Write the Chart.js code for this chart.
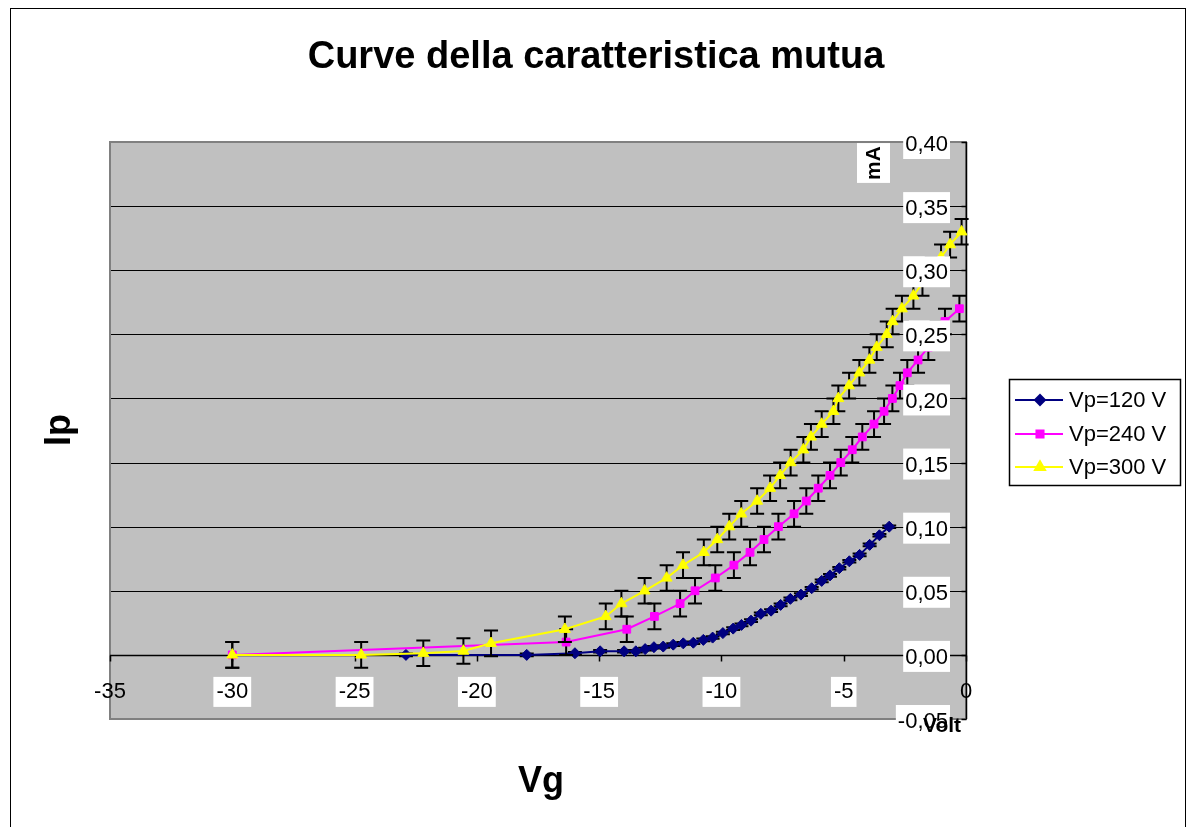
<!DOCTYPE html>
<html><head><meta charset="utf-8">
<script src="https://cdn.jsdelivr.net/npm/chart.js@4/dist/chart.umd.min.js"></script>
<style>html,body{margin:0;padding:0;background:#fff;}canvas{display:block;}</style>
</head><body>
<canvas id="c" width="1189" height="827"></canvas>
<script>
// ---- texts ----
const titleText = 'Curve della caratteristica mutua';
const xAxisTitle = 'Vg';
const yAxisTitle = 'Ip';
const xUnitLabel = 'Volt';
const yUnitLabel = 'mA';
const seriesNames = ['Vp=120 V', 'Vp=240 V', 'Vp=300 V'];

// ---- data (Vg in volt, Ip in mA) ----
const vg120 = [-22.9, -17.96, -15.99, -14.96, -13.98, -13.5, -13.12, -12.76, -12.38, -11.97, -11.56, -11.15, -10.74, -10.36, -9.94, -9.52, -9.18, -8.79, -8.39, -7.97, -7.58, -7.18, -6.75, -6.31, -5.9, -5.56, -5.18, -4.77, -4.35, -3.94, -3.54, -3.14];
const ip120 = [0, 0, 0.0013, 0.0028, 0.0028, 0.0028, 0.0045, 0.006, 0.0065, 0.008, 0.009, 0.0095, 0.0117, 0.0135, 0.017, 0.0205, 0.0234, 0.0267, 0.032, 0.0345, 0.039, 0.0437, 0.047, 0.052, 0.0577, 0.062, 0.0676, 0.073, 0.078, 0.0858, 0.0933, 0.100];

const vg240 = [-30, -16.35, -13.87, -12.74, -11.69, -11.08, -10.25, -9.49, -8.83, -8.26, -7.67, -7.03, -6.53, -6.04, -5.56, -5.12, -4.65, -4.24, -3.76, -3.35, -3.01, -2.70, -2.40, -1.96, -1.54, -1.2, -0.86, -0.27];
const ip240 = [0, 0.01, 0.02, 0.03, 0.04, 0.05, 0.06, 0.07, 0.08, 0.09, 0.10, 0.11, 0.12, 0.13, 0.14, 0.15, 0.16, 0.17, 0.18, 0.19, 0.20, 0.21, 0.22, 0.23, 0.24, 0.25, 0.26, 0.27];

const vg300 = [-30, -24.73, -22.19, -20.55, -19.42, -16.4, -14.73, -14.09, -13.14, -12.24, -11.57, -10.72, -10.17, -9.68, -9.19, -8.54, -8.01, -7.60, -7.17, -6.65, -6.34, -5.90, -5.42, -5.22, -4.78, -4.36, -3.95, -3.65, -3.24, -3.0, -2.62, -2.15, -1.78, -1.4, -1.02, -0.65, -0.18];
const ip300 = [0, 0, 0.0013, 0.003, 0.009, 0.02, 0.03, 0.04, 0.05, 0.06, 0.07, 0.08, 0.09, 0.10, 0.11, 0.12, 0.13, 0.14, 0.15, 0.16, 0.17, 0.18, 0.19, 0.20, 0.21, 0.22, 0.23, 0.24, 0.25, 0.26, 0.27, 0.28, 0.29, 0.30, 0.31, 0.32, 0.33];

// error bar half-widths (mA) per series
const seriesErrors = [0.001, 0.01, 0.01];

// ---- ticks ----
const xTickValues = [-35, -30, -25, -20, -15, -10, -5, 0];
const xTickLabels = ['-35', '-30', '-25', '-20', '-15', '-10', '-5', '0'];
const yTickValues = [-0.05, 0, 0.05, 0.10, 0.15, 0.20, 0.25, 0.30, 0.35, 0.40];
const yTickLabels = ['-0,05', '0,00', '0,05', '0,10', '0,15', '0,20', '0,25', '0,30', '0,35', '0,40'];
const yGridValues = [0, 0.05, 0.10, 0.15, 0.20, 0.25, 0.30, 0.35];

// ---- style ----
const FONT = '"Liberation Sans", Arial, Helvetica, sans-serif';
const seriesColors = ['#000080', '#FF00FF', '#FFFF00'];
const seriesMarkers = ['rectRot', 'rect', 'triangle'];
const markerRadius = [5.5, 5.5, 6.3];

function pts(xs, ys) { return xs.map((x, i) => ({ x: x, y: ys[i] })); }

function boxText(ctx, text, x, y, align, font, pad, box) {
  ctx.font = font;
  ctx.textAlign = align;
  ctx.textBaseline = 'middle';
  const w = ctx.measureText(text).width;
  let left = align === 'right' ? x - w : (align === 'center' ? x - w / 2 : x);
  if (box) {
    ctx.fillStyle = '#fff';
    ctx.fillRect(left - pad, box[0], w + 2 * pad, box[1] - box[0]);
  }
  ctx.fillStyle = '#000';
  ctx.fillText(text, x, y);
}

const excelPlugin = {
  id: 'excelLook',
  beforeDatasetsDraw(chart) {
    const ctx = chart.ctx, a = chart.chartArea;
    const xs = chart.scales.x, ys = chart.scales.y;
    ctx.save();
    // outer frame
    ctx.strokeStyle = '#000'; ctx.lineWidth = 1;
    ctx.strokeRect(10.5, 8.5, 1175, 860);
    // plot area
    ctx.fillStyle = '#C0C0C0';
    ctx.fillRect(a.left, a.top, a.right - a.left, a.bottom - a.top);
    // gridlines
    ctx.strokeStyle = '#000'; ctx.lineWidth = 1;
    yGridValues.forEach(v => {
      const py = Math.round(ys.getPixelForValue(v)) + 0.5;
      ctx.beginPath(); ctx.moveTo(a.left, py); ctx.lineTo(a.right, py); ctx.stroke();
    });
    // plot border
    ctx.strokeStyle = '#808080'; ctx.lineWidth = 2;
    ctx.strokeRect(a.left, a.top, a.right - a.left, a.bottom - a.top);
    // x axis at y=0
    const y0 = Math.round(ys.getPixelForValue(0)) + 0.5;
    ctx.strokeStyle = '#000'; ctx.lineWidth = 1.5;
    ctx.beginPath(); ctx.moveTo(a.left, y0); ctx.lineTo(a.right, y0); ctx.stroke();
    xTickValues.forEach(v => {
      const px = Math.round(xs.getPixelForValue(v)) + 0.5;
      ctx.beginPath(); ctx.moveTo(px, y0); ctx.lineTo(px, y0 + 6); ctx.stroke();
    });
    // y axis at x=0
    const x0 = Math.round(xs.getPixelForValue(0)) + 0.5;
    ctx.beginPath(); ctx.moveTo(x0, a.top); ctx.lineTo(x0, a.bottom); ctx.stroke();
    yTickValues.forEach(v => {
      const py = Math.round(ys.getPixelForValue(v)) + 0.5;
      ctx.beginPath(); ctx.moveTo(x0 - 5, py); ctx.lineTo(x0, py); ctx.stroke();
    });
    ctx.restore();
  },
  beforeDatasetDraw(chart, args) {
    const i = args.index;
    const err = seriesErrors[i];
    const ctx = chart.ctx, xs = chart.scales.x, ys = chart.scales.y;
    ctx.save();
    ctx.strokeStyle = '#000'; ctx.lineWidth = 2;
    chart.data.datasets[i].data.forEach(p => {
      const px = xs.getPixelForValue(p.x);
      const yt = ys.getPixelForValue(p.y + err);
      const yb = ys.getPixelForValue(p.y - err);
      ctx.beginPath();
      ctx.moveTo(px, yt); ctx.lineTo(px, yb);
      ctx.moveTo(px - 7, yt); ctx.lineTo(px + 7, yt);
      ctx.moveTo(px - 7, yb); ctx.lineTo(px + 7, yb);
      ctx.stroke();
    });
    ctx.restore();
  },
  afterDatasetsDraw(chart) {
    const ctx = chart.ctx, a = chart.chartArea;
    const xs = chart.scales.x, ys = chart.scales.y;
    const x0 = xs.getPixelForValue(0);
    const y0 = ys.getPixelForValue(0);
    const tickFont = '22px ' + FONT;
    ctx.save();
    // y tick labels
    yTickValues.forEach((v, k) => {
      const py = ys.getPixelForValue(v);
      boxText(ctx, yTickLabels[k], x0 - 18, py + 3, 'right', tickFont, 2, [py - 14, py + 17]);
    });
    // x tick labels
    xTickValues.forEach((v, k) => {
      const px = xs.getPixelForValue(v);
      const edge = (k === 0 || k === xTickValues.length - 1);
      boxText(ctx, xTickLabels[k], px, y0 + 37, 'center', tickFont, 3, edge ? null : [y0 + 22, y0 + 52]);
    });
    // unit labels
    ctx.font = 'bold 21px ' + FONT;
    ctx.textAlign = 'center'; ctx.textBaseline = 'middle';
    ctx.fillStyle = '#000';
    ctx.fillText(xUnitLabel, x0 - 24, a.bottom + 7);
    ctx.save();
    ctx.translate(x0 - 93, a.top + 21);
    ctx.rotate(-Math.PI / 2);
    const mw = ctx.measureText(yUnitLabel).width;
    ctx.fillStyle = '#fff';
    ctx.fillRect(-mw / 2 - 3, -16, mw + 6, 33);
    ctx.fillStyle = '#000';
    ctx.fillText(yUnitLabel, 0, 1);
    ctx.restore();
    // title
    ctx.font = 'bold 38px ' + FONT;
    ctx.textAlign = 'center'; ctx.textBaseline = 'alphabetic';
    ctx.fillText(titleText, 596, 68);
    // axis titles
    ctx.font = 'bold 36px ' + FONT;
    ctx.fillText(xAxisTitle, 541, 792);
    ctx.save();
    ctx.translate(70, 430);
    ctx.rotate(-Math.PI / 2);
    ctx.fillText(yAxisTitle, 0, 0);
    ctx.restore();
    // legend
    const L = { x: 1009, y: 379, w: 171, h: 106 };
    ctx.fillStyle = '#fff';
    ctx.fillRect(L.x, L.y, L.w, L.h);
    ctx.strokeStyle = '#000'; ctx.lineWidth = 1.5;
    ctx.strokeRect(L.x + 0.5, L.y + 0.5, L.w, L.h);
    const rowY = [400, 434, 467];
    chart.data.datasets.forEach((ds, k) => {
      const ry = rowY[k];
      ctx.strokeStyle = seriesColors[k]; ctx.lineWidth = 2;
      ctx.beginPath(); ctx.moveTo(1015, ry); ctx.lineTo(1063, ry); ctx.stroke();
      Chart.helpers.drawPoint(ctx, {
        pointStyle: seriesMarkers[k], radius: markerRadius[k] - 0.5, rotation: 0, borderWidth: 1
      }, 1040, ry);
      ctx.fillStyle = seriesColors[k];
      ctx.fill();
      ctx.fillStyle = '#000';
      ctx.font = '22px ' + FONT;
      ctx.textAlign = 'left'; ctx.textBaseline = 'middle';
      ctx.fillText(seriesNames[k], 1069, ry + 1);
    });
    ctx.restore();
  }
};

const allVg = [vg120, vg240, vg300];
const allIp = [ip120, ip240, ip300];

new Chart(document.getElementById('c'), {
  type: 'scatter',
  data: {
    datasets: seriesNames.map((name, k) => ({
      label: name,
      data: pts(allVg[k], allIp[k]),
      showLine: true,
      borderColor: seriesColors[k],
      backgroundColor: seriesColors[k],
      borderWidth: 2,
      pointStyle: seriesMarkers[k],
      pointRadius: markerRadius[k],
      pointBorderWidth: 1,
      pointBorderColor: seriesColors[k],
      pointBackgroundColor: seriesColors[k],
      tension: 0,
      clip: false,
      order: 3 - k
    }))
  },
  options: {
    responsive: false,
    animation: false,
    devicePixelRatio: 1,
    events: [],
    layout: { padding: { left: 110, right: 223, top: 142, bottom: 108 } },
    scales: {
      x: { type: 'linear', min: -35, max: 0, display: false },
      y: { type: 'linear', min: -0.05, max: 0.40, display: false }
    },
    plugins: { legend: { display: false }, title: { display: false }, tooltip: { enabled: false } }
  },
  plugins: [excelPlugin]
});
</script>
</body></html>
